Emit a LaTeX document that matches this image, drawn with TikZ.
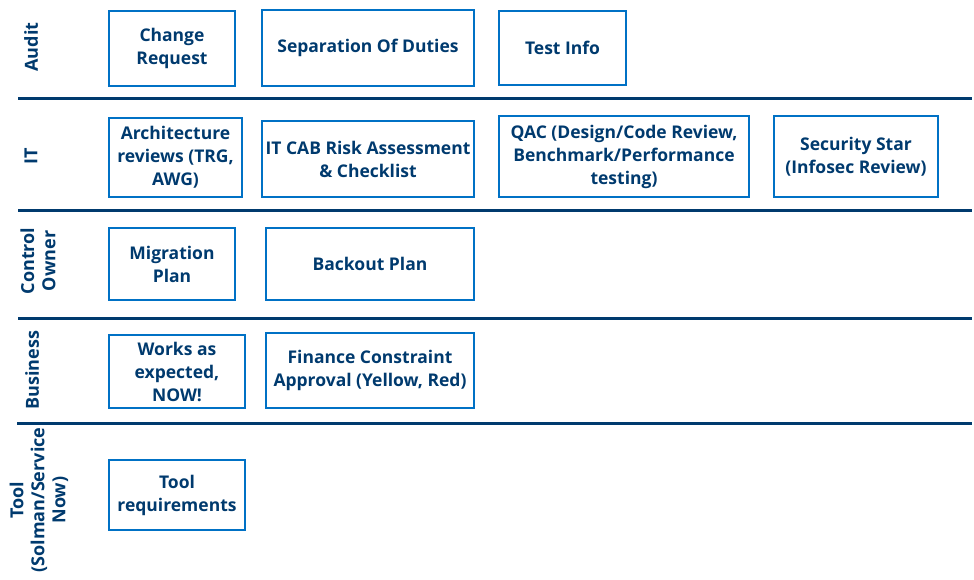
\documentclass[tikz,border=0pt]{standalone}
\usepackage{fontspec}
\setmainfont{Open Sans}
\definecolor{navy}{HTML}{003A6E}
\definecolor{boxblue}{HTML}{0071C5}

\begin{document}
\begin{tikzpicture}[x=1pt,y=-1pt,
	item/.style={draw=boxblue, line width=2.6pt, align=center, inner sep=0pt,
		text=navy, font=\fontsize{17.5}{23}\selectfont\bfseries},
	lane/.style={rotate=90, align=center, text=navy,
		font=\fontsize{18}{21}\selectfont\bfseries},
	sep/.style={draw=navy, line width=3pt}]
		\useasboundingbox (0,0) rectangle (974,579);

		% swimlane separators
		\coordinate (l1a) at (18,98);  \coordinate (l1b) at (972,98);
		\coordinate (l2a) at (18,210); \coordinate (l2b) at (972,210);
		\coordinate (l3a) at (18,318); \coordinate (l3b) at (972,318);
		\coordinate (l4a) at (17,423); \coordinate (l4b) at (972,423);
		\draw[sep] (l1a) -- (l1b);
		\draw[sep] (l2a) -- (l2b);
		\draw[sep] (l3a) -- (l3b);
		\draw[sep] (l4a) -- (l4b);

		% lane names
		\node[lane] (audit) at (31,47) {Audit};
		\node[lane] (it) at (31,156) {IT};
		\node[lane] (owner) at (38,261) {Control\\Owner};
		\node[lane] (business) at (32,370) {Business};
		\node[lane] (tool) at (39,500) {Tool\\(Solman/Service\\Now)};

		% audit
		\node[item, minimum width=126, minimum height=75] (chg) at (172,48.5) {Change\\Request};
		\node[item, minimum width=212, minimum height=76] (sod) at (368,48) {Separation Of Duties};
		\node[item, minimum width=127, minimum height=74] (test) at (562.5,48) {Test Info};

		% it
		\node[item, minimum width=133, minimum height=79] (arch) at (175.5,157.5) {Architecture\\reviews (TRG,\\AWG)};
		\node[item, minimum width=212, minimum height=76] (cab) at (368,159) {IT CAB Risk Assessment\\\& Checklist};
		\node[item, minimum width=250, minimum height=81] (qac) at (624,156.5) {QAC (Design/Code Review,\\Benchmark/Performance\\testing)};
		\node[item, minimum width=164, minimum height=81] (sec) at (856,156.5) {Security Star\\(Infosec Review)};

		% control owner
		\node[item, minimum width=126, minimum height=72] (mig) at (172,264) {Migration\\Plan};
		\node[item, minimum width=208, minimum height=72] (back) at (370,264) {Backout Plan};

		% business
		\node[item, minimum width=136, minimum height=73] (works) at (177,371.5) {Works as\\expected,\\NOW!};
		\node[item, minimum width=208, minimum height=75] (fin) at (370,370.5) {Finance Constraint\\Approval (Yellow, Red)};

		% tool
		\node[item, minimum width=136, minimum height=70] (req) at (177,495) {Tool\\requirements};
	\end{tikzpicture}
\end{document}
